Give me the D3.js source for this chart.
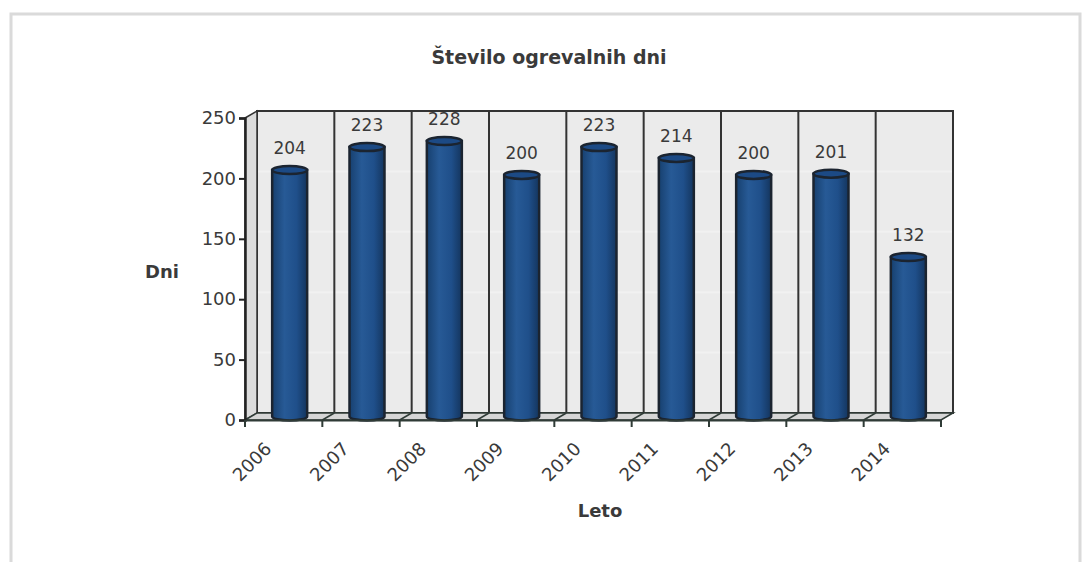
<!DOCTYPE html>
<html>
<head>
<meta charset="utf-8" />
<script src="https://cdn.jsdelivr.net/npm/d3@7/dist/d3.min.js"></script>
<style>
    body { margin: 0; background: #fff; }
    text { font-family: Tahoma, "DejaVu Sans", sans-serif; fill: #3a3a3a; }
</style>
</head>
<body>
<script>
    var years = ["2006", "2007", "2008", "2009", "2010", "2011", "2012", "2013", "2014"];
    var days = [204, 223, 228, 200, 223, 214, 200, 201, 132];
    var yTicks = [0, 50, 100, 150, 200, 250];

    var svgWidth = 1085, svgHeight = 562;
    var plotLeft = 245, plotRight = 941, plotBase = 420, plotTop = 118;
    var depth = {x: 12, y: -7};  // offset of the back wall

    var svg = d3.select("body").append("svg")
        .attr("width", svgWidth)
        .attr("height", svgHeight);

    // outer frame
    svg.append("path")
        .attr("d", "M11,570 L11,14 L1080,14 L1080,570")
        .attr("fill", "none")
        .attr("stroke", "#dadada")
        .attr("stroke-width", 3);

    var x = d3.scaleBand().domain(years).range([plotLeft, plotRight]).padding(0);
    var y = d3.scaleLinear().domain([0, 250]).range([plotBase, plotTop]);

    var defs = svg.append("defs");
    var grad = defs.append("linearGradient").attr("id", "cyl");
    grad.append("stop").attr("offset", "0%").attr("stop-color", "#17406f");
    grad.append("stop").attr("offset", "35%").attr("stop-color", "#275a96");
    grad.append("stop").attr("offset", "70%").attr("stop-color", "#1f4f8a");
    grad.append("stop").attr("offset", "100%").attr("stop-color", "#14355e");

    // back wall
    var wall = svg.append("g").attr("transform", "translate(" + depth.x + "," + depth.y + ")");
    wall.selectAll(".panel")
        .data(years)
        .enter().append("rect")
        .attr("x", function(d) { return x(d); })
        .attr("y", y(250))
        .attr("width", x.bandwidth())
        .attr("height", plotBase - y(250))
        .attr("fill", "#ebebeb");
    wall.selectAll(".grid")
        .data(yTicks.slice(1, -1))
        .enter().append("line")
        .attr("x1", plotLeft).attr("x2", plotRight)
        .attr("y1", function(d) { return y(d); })
        .attr("y2", function(d) { return y(d); })
        .attr("stroke", "#f1f1f1")
        .attr("stroke-width", 2);
    wall.selectAll(".divider")
        .data(years.slice(1))
        .enter().append("line")
        .attr("x1", function(d) { return x(d); })
        .attr("x2", function(d) { return x(d); })
        .attr("y1", y(250)).attr("y2", plotBase)
        .attr("stroke", "#333")
        .attr("stroke-width", 2);
    wall.append("rect")
        .attr("x", plotLeft).attr("y", y(250))
        .attr("width", plotRight - plotLeft).attr("height", plotBase - y(250))
        .attr("fill", "none")
        .attr("stroke", "#333")
        .attr("stroke-width", 2);

    // side wall between front axis and back wall
    svg.append("path")
        .attr("d", "M" + plotLeft + "," + plotBase + " L" + plotLeft + "," + y(250) +
            " L" + (plotLeft + depth.x) + "," + (y(250) + depth.y) +
            " L" + (plotLeft + depth.x) + "," + (plotBase + depth.y) + " Z")
        .attr("fill", "#dcdcdc")
        .attr("stroke", "#333")
        .attr("stroke-width", 1.5);

    // floor
    svg.append("path")
        .attr("d", "M" + plotLeft + "," + plotBase + " L" + plotRight + "," + plotBase +
            " L" + (plotRight + depth.x) + "," + (plotBase + depth.y) +
            " L" + (plotLeft + depth.x) + "," + (plotBase + depth.y) + " Z")
        .attr("fill", "#d6d6d6")
        .attr("stroke", "#2f3b36")
        .attr("stroke-width", 1.5);
    svg.selectAll(".floorDiv")
        .data(years.slice(1))
        .enter().append("line")
        .attr("x1", function(d) { return x(d); })
        .attr("y1", plotBase)
        .attr("x2", function(d) { return x(d) + depth.x; })
        .attr("y2", plotBase + depth.y)
        .attr("stroke", "#2f3b36")
        .attr("stroke-width", 1.5);

    // cylinders
    var barW = 35, ry = 4;
    var bars = svg.selectAll(".bar")
        .data(years)
        .enter().append("g")
        .attr("class", "bar")
        .attr("transform", function(d) {
            return "translate(" + (x(d) + x.bandwidth() / 2 + depth.x / 2) + "," + (depth.y / 2) + ")";
        });
    bars.append("path")
        .attr("d", function(d, i) {
            var t = y(days[i]), b = plotBase;
            return "M" + (-barW / 2) + "," + t + " L" + (-barW / 2) + "," + b +
                " A" + (barW / 2) + "," + ry + " 0 0 0 " + (barW / 2) + "," + b +
                " L" + (barW / 2) + "," + t + " Z";
        })
        .attr("fill", "url(#cyl)")
        .attr("stroke", "#1b2430")
        .attr("stroke-width", 2.5);
    bars.append("ellipse")
        .attr("cx", 0)
        .attr("cy", function(d, i) { return y(days[i]); })
        .attr("rx", barW / 2)
        .attr("ry", ry)
        .attr("fill", "#1c4a85")
        .attr("stroke", "#1b2430")
        .attr("stroke-width", 2.5);
    bars.append("text")
        .attr("x", 0)
        .attr("y", function(d, i) { return y(days[i]) - 16; })
        .attr("text-anchor", "middle")
        .style("font-size", "17px")
        .text(function(d, i) { return days[i]; });

    // y axis
    var yAxis = svg.append("g")
        .attr("transform", "translate(" + plotLeft + ",0)")
        .call(d3.axisLeft(y).tickValues(yTicks).tickSize(6).tickPadding(3));
    yAxis.selectAll("text").style("font-size", "18px").attr("fill", "#3a3a3a");
    yAxis.selectAll("line").attr("stroke", "#222").attr("stroke-width", 2);
    yAxis.select(".domain").attr("stroke", "#222").attr("stroke-width", 2.5);

    // x axis: ticks on category boundaries, labels under each category
    var xAxis = svg.append("g")
        .attr("transform", "translate(0," + plotBase + ")")
        .call(d3.axisBottom(x).tickSize(0).tickPadding(0));
    xAxis.select(".domain").attr("stroke", "#2f3b36").attr("stroke-width", 2);
    xAxis.selectAll("text")
        .style("font-size", "18px")
        .attr("fill", "#3a3a3a")
        .style("text-anchor", "end")
        .attr("dy", 0)
        .attr("transform", "translate(-11,30) rotate(-45)");
    xAxis.selectAll(".bound")
        .data(years.concat(["end"]))
        .enter().append("line")
        .attr("x1", function(d) { return d === "end" ? plotRight : x(d); })
        .attr("x2", function(d) { return d === "end" ? plotRight : x(d); })
        .attr("y1", 0).attr("y2", 7)
        .attr("stroke", "#2f3b36")
        .attr("stroke-width", 2);

    // titles
    svg.append("text")
        .attr("x", 549).attr("y", 64)
        .attr("text-anchor", "middle")
        .style("font-size", "19px")
        .style("font-weight", "bold")
        .text("Število ogrevalnih dni");
    svg.append("text")
        .attr("x", 162).attr("y", 278)
        .attr("text-anchor", "middle")
        .style("font-size", "18px")
        .style("font-weight", "bold")
        .text("Dni");
    svg.append("text")
        .attr("x", 600).attr("y", 517)
        .attr("text-anchor", "middle")
        .style("font-size", "18px")
        .style("font-weight", "bold")
        .text("Leto");
</script>
</body>
</html>
